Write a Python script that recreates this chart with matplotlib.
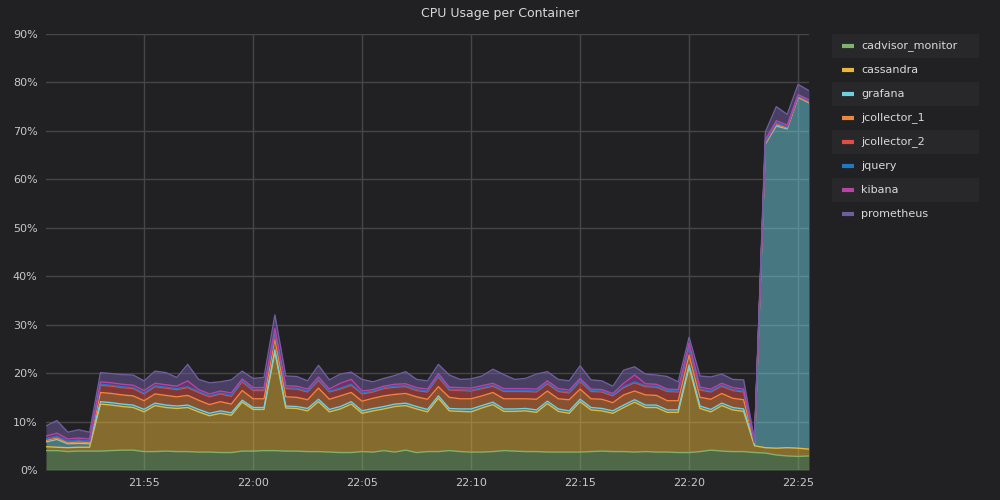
import pandas as pd
import matplotlib
matplotlib.use('Agg')
import matplotlib.pyplot as plt
import matplotlib.dates as mdates
from matplotlib.patches import Rectangle
from matplotlib.lines import Line2D


# sample times, every 30 seconds
times = pd.date_range('2024-01-01 21:50:30', periods=71, freq='30s')

names = ['cadvisor_monitor', 'cassandra', 'grafana', 'jcollector_1',
         'jcollector_2', 'jquery', 'kibana', 'prometheus']
colors = ['#7EB26D', '#EAB839', '#6ED0E0', '#EF843C',
          '#E24D42', '#1F78C1', '#BA43A9', '#705DA0']

# values in percent
cadvisor_monitor = [4.0, 4.0, 3.8, 3.9, 3.9,
                    3.9, 4.0, 4.1, 4.1, 3.8, 3.8, 3.9, 3.8,
                    3.8, 3.7, 3.7, 3.6, 3.6, 3.9, 3.9, 4.0, 4.0, 3.9, 3.9, 3.8, 3.8,
                    3.7, 3.6, 3.6, 3.8, 3.7, 4.0, 3.7, 4.1, 3.6, 3.8, 3.8, 4.0,
                    3.8, 3.7, 3.7, 3.8, 4.0, 3.9, 3.8, 3.8, 3.7, 3.7, 3.7, 3.7,
                    3.8, 3.9, 3.8, 3.8, 3.7, 3.8, 3.7, 3.7, 3.6, 3.6, 3.8, 4.1, 3.9, 3.8, 3.8,
                    3.6, 3.5, 3.1, 2.9, 2.8, 2.9]
cassandra = [0.8, 0.7, 0.8, 0.8, 0.8,
             9.7, 9.4, 9.0, 8.8, 8.2, 9.5, 9.0, 8.9,
             9.1, 8.3, 7.5, 8.1, 7.7, 10.1, 8.6, 8.5, 20.4, 8.9, 8.8, 8.4, 10.3,
             8.3, 9.0, 10.0, 7.9, 8.5, 8.6, 9.4, 9.2, 9.0, 8.2, 11.0, 8.2,
             8.3, 8.3, 9.1, 9.7, 8.1, 8.2, 8.4, 8.1, 10.0, 8.4, 8.0, 10.4,
             8.6, 8.3, 7.9, 9.1, 10.3, 9.1, 9.2, 8.2, 8.3, 17.6, 8.9, 7.9, 9.4, 8.6, 8.3,
             1.4, 1.1, 1.4, 1.7, 1.7, 1.4]
grafana = [1.0, 1.6, 0.8, 0.8, 0.7,
           0.5, 0.5, 0.5, 0.5, 0.5, 0.5, 0.5, 0.5,
           0.5, 0.5, 0.5, 0.5, 0.5, 0.4, 0.4, 0.4, 0.4, 0.4, 0.4, 0.5, 0.5,
           0.5, 0.5, 0.5, 0.5, 0.5, 0.5, 0.5, 0.5, 0.5, 0.5, 0.5, 0.5,
           0.5, 0.6, 0.5, 0.5, 0.5, 0.5, 0.5, 0.5, 0.5, 0.5, 0.5, 0.5,
           0.5, 0.5, 0.5, 0.5, 0.5, 0.5, 0.5, 0.5, 0.5, 0.5, 0.5, 0.5, 0.5, 0.5, 0.5,
           0.3, 62.7, 66.5, 65.8, 72.4, 71.5]
jcollector_1 = [0.3, 0.3, 0.2, 0.3, 0.2,
                1.9, 1.9, 1.9, 1.9, 1.8, 1.9, 2.0, 1.9,
                2.0, 1.9, 1.8, 1.9, 1.8, 2.0, 1.8, 1.8, 2.2, 1.9, 1.9, 1.8, 2.3,
                2.1, 2.2, 1.9, 2.0, 2.1, 2.2, 2.0, 2.0, 2.0, 2.1, 1.9, 2.3,
                2.1, 2.1, 2.0, 2.0, 2.1, 2.1, 2.0, 2.2, 2.1, 2.1, 2.3, 2.1,
                1.8, 1.9, 1.7, 2.1, 1.8, 2.1, 2.0, 1.9, 1.9, 2.0, 1.8, 2.1, 2.0, 1.9, 1.9,
                0.2, 0.2, 0.3, 0.2, 0.1, 0.1]
jcollector_2 = [0.3, 0.3, 0.3, 0.3, 0.3,
                1.5, 1.5, 1.5, 1.5, 1.4, 1.5, 1.5, 1.5,
                1.6, 1.6, 1.6, 1.6, 1.6, 1.8, 1.7, 1.7, 1.2, 1.7, 1.7, 1.6, 1.6,
                1.5, 1.4, 1.5, 1.5, 1.3, 1.5, 1.5, 1.4, 1.3, 1.5, 2.0, 1.5,
                1.7, 1.6, 1.5, 1.3, 1.5, 1.5, 1.5, 1.5, 1.5, 1.5, 1.4, 1.6,
                1.5, 1.5, 1.4, 1.5, 1.7, 1.7, 1.7, 1.9, 1.8, 1.6, 1.5, 1.5, 1.5, 1.6, 1.6,
                0.2, 0.2, 0.3, 0.2, 0.2, 0.2]
jquery = [0.1, 0.1, 0.1, 0.1, 0.1,
          0.2, 0.2, 0.2, 0.2, 0.2, 0.2, 0.2, 0.2,
          0.2, 0.2, 0.2, 0.2, 0.2, 0.2, 0.2, 0.2, 0.2, 0.2, 0.2, 0.2, 0.2,
          0.2, 0.2, 0.2, 0.2, 0.2, 0.2, 0.2, 0.2, 0.2, 0.2, 0.2, 0.2,
          0.2, 0.2, 0.2, 0.2, 0.2, 0.2, 0.2, 0.2, 0.2, 0.2, 0.2, 0.2,
          0.2, 0.2, 0.2, 0.2, 0.2, 0.2, 0.2, 0.2, 0.2, 0.2, 0.2, 0.2, 0.2, 0.2, 0.2,
          0.1, 0.1, 0.1, 0.1, 0.1, 0.1]
kibana = [0.5, 0.6, 0.4, 0.4, 0.4,
          0.5, 0.5, 0.5, 0.5, 0.5, 0.5, 0.5, 0.5,
          1.2, 0.4, 0.4, 0.4, 0.5, 0.4, 0.4, 0.4, 0.8, 0.4, 0.4, 0.4, 0.5,
          0.4, 1.0, 1.0, 0.4, 0.3, 0.3, 0.4, 0.4, 0.4, 0.4, 0.5, 0.4,
          0.4, 0.4, 0.4, 0.4, 0.4, 0.4, 0.4, 0.4, 0.4, 0.4, 0.4, 0.4,
          0.3, 0.3, 0.3, 0.7, 1.4, 0.4, 0.4, 0.3, 0.3, 0.7, 0.4, 0.4, 0.4, 0.4, 0.4,
          0.1, 0.4, 0.4, 0.3, 0.2, 0.2]
prometheus = [2.1, 2.6, 1.4, 1.7, 1.4,
              1.9, 1.9, 2.0, 2.1, 2.0, 2.5, 2.5, 1.8,
              3.4, 2.1, 2.3, 1.9, 2.7, 1.6, 1.9, 2.1, 2.8, 2.0, 2.0, 1.7, 2.4,
              1.9, 1.9, 1.5, 2.4, 1.6, 1.6, 1.8, 2.5, 1.7, 1.7, 1.9, 2.5,
              1.7, 1.9, 2.0, 2.9, 2.9, 1.9, 2.1, 3.1, 1.9, 1.9, 1.9, 2.6,
              1.9, 1.8, 1.5, 2.7, 1.7, 2.0, 1.9, 2.6, 1.6, 1.2, 2.3, 2.5, 1.9, 1.7, 1.9,
              0.3, 1.6, 2.9, 2.2, 2.1, 1.9]

series = [cadvisor_monitor, cassandra, grafana, jcollector_1,
          jcollector_2, jquery, kibana, prometheus]

bg = '#212124'
fig = plt.figure(figsize=(10, 5), dpi=100, facecolor=bg)
ax = fig.add_axes([0.046, 0.06, 0.763, 0.872])
ax.set_facecolor(bg)

# stacked areas, each band filled from the series below
df = pd.DataFrame(dict(zip(names, series)), index=times)
stacked = df.cumsum(axis=1)
lower = pd.Series(0.0, index=times)
for name, c in zip(names, colors):
    upper = stacked[name]
    ax.fill_between(times, lower, upper, color=c, alpha=0.5, linewidth=0)
    ax.plot(times, upper, color=c, linewidth=1)
    lower = upper

ax.set_xlim(times[0], times[-1])
ax.set_ylim(0, 90)
ax.set_yticks(range(0, 91, 10))
ax.set_yticklabels([f'{v}%' for v in range(0, 91, 10)])
ax.xaxis.set_major_locator(mdates.MinuteLocator(byminute=range(0, 60, 5)))
ax.xaxis.set_major_formatter(mdates.DateFormatter('%H:%M'))

ax.grid(True, color='#464648', linewidth=1)
ax.set_axisbelow(True)
for s in ax.spines.values():
    s.set_visible(False)
ax.tick_params(colors='#c7c8ca', labelsize=8, length=0, pad=6)

fig.text(0.5, 0.972, 'CPU Usage per Container', color='#d8d9da',
         fontsize=9, ha='center', va='center')

# legend on the right, with striped rows
row_h = 24 / 500
top = 1 - 34 / 500
for i, (name, c) in enumerate(zip(names, colors)):
    y0 = top - (i + 1) * row_h
    if i % 2 == 0:
        fig.add_artist(Rectangle((0.832, y0), 0.147, row_h, transform=fig.transFigure,
                                 facecolor='#28282b', edgecolor='none'))
    yc = y0 + row_h / 2
    fig.add_artist(Line2D([0.842, 0.854], [yc, yc], transform=fig.transFigure,
                          color=c, linewidth=3, solid_capstyle='butt'))
    fig.text(0.861, yc, name, color='#d8d9da', fontsize=8, va='center', ha='left')

fig.savefig('out.png', dpi=100, facecolor=bg)
